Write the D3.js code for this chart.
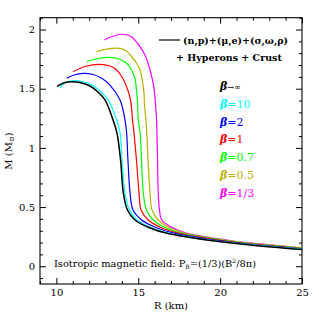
<!DOCTYPE html>
<html>
<head>
<meta charset="utf-8">
<script src="https://cdn.jsdelivr.net/npm/d3@7"></script>
<style>
  body { margin: 0; background: #fff; }
  svg text { font-family: "DejaVu Serif", serif; fill: #000; }
</style>
</head>
<body>
<div id="chart"></div>
<script>
// mass-radius curves, [R (km), M (Msun)]
const betaInf = [[10.04,1.519],[10.53,1.552],[10.95,1.558],[11.44,1.552],[12.05,1.523],[12.54,1.472],[12.97,1.405],[13.46,1.236],[13.70,1.126],[13.92,0.898],[14.09,0.619],[14.34,0.475],[14.80,0.391],[15.72,0.323],[16.76,0.278],[19.18,0.222],[21.82,0.180],[25,0.141]];
const beta10 = [[10.22,1.506],[10.53,1.548],[11.02,1.568],[11.56,1.561],[12.18,1.531],[12.73,1.472],[13.17,1.405],[13.68,1.236],[13.89,1.126],[14.01,0.898],[14.19,0.619],[14.47,0.475],[14.91,0.391],[15.84,0.323],[16.94,0.278],[19.38,0.222],[22.01,0.180],[25,0.144]];
const beta2 = [[10.63,1.588],[11.08,1.616],[11.64,1.630],[12.24,1.620],[12.79,1.586],[13.27,1.531],[13.89,1.405],[14.19,1.236],[14.29,1.126],[14.37,0.898],[14.50,0.619],[14.68,0.475],[15.21,0.391],[16.15,0.323],[17.24,0.278],[19.63,0.222],[22.19,0.181],[25,0.147]];
const beta1 = [[11.03,1.644],[11.75,1.688],[12.66,1.706],[13.27,1.692],[13.68,1.658],[14.01,1.599],[14.29,1.517],[14.53,1.405],[14.65,1.236],[14.74,1.126],[14.89,0.898],[15.05,0.619],[15.17,0.475],[15.61,0.391],[16.45,0.323],[17.49,0.278],[19.87,0.222],[22.37,0.182],[25,0.150]];
const beta07 = [[11.85,1.728],[12.54,1.755],[13.27,1.765],[13.82,1.751],[14.29,1.715],[14.59,1.658],[14.80,1.588],[14.89,1.489],[14.95,1.405],[15.00,1.236],[15.11,1.126],[15.20,0.898],[15.31,0.619],[15.50,0.475],[15.92,0.391],[16.69,0.323],[17.67,0.278],[20.05,0.222],[22.50,0.183],[25,0.152]];
const beta05 = [[12.46,1.813],[13.15,1.836],[13.89,1.841],[14.28,1.819],[14.60,1.770],[14.89,1.717],[15.11,1.658],[15.26,1.557],[15.35,1.464],[15.38,1.362],[15.47,1.236],[15.52,1.126],[15.60,0.898],[15.72,0.619],[15.84,0.475],[16.22,0.391],[16.94,0.323],[17.85,0.278],[20.24,0.222],[22.62,0.184],[25,0.153]];
const beta13 = [[12.93,1.912],[13.40,1.941],[14.09,1.960],[14.56,1.941],[15.11,1.855],[15.41,1.785],[15.72,1.658],[15.93,1.531],[16.02,1.433],[16.08,1.320],[16.12,1.236],[16.14,1.126],[16.18,0.898],[16.22,0.619],[16.30,0.475],[16.43,0.391],[17.12,0.323],[17.98,0.278],[20.40,0.222],[22.74,0.184],[25,0.154]];

const curves = [betaInf, beta10, beta2, beta1, beta07, beta05, beta13];
const betaValues = ["\u2192\u221e", "=10", "=2", "=1", "=0.7", "=0.5", "=1/3"];
const colors = ["#000000", "#00ffff", "#0000ff", "#ff0000", "#00ff00", "#b8b000", "#ff00ff"];

const xMajor = [10, 15, 20, 25];
const yMajor = [0, 0.5, 1, 1.5, 2];

const W = 319, H = 319;
const svg = d3.select("#chart").append("svg")
    .attr("width", W)
    .attr("height", H);

const x = d3.scaleLinear().domain([9, 25]).range([40, 302]);
const y = d3.scaleLinear().domain([-0.15, 2.1]).range([284, 17.7]);

const xMinor = d3.range(9, 26).filter(d => !xMajor.includes(d));
const yMinor = d3.range(-1, 22).map(i => i / 10).filter(d => !yMajor.includes(d));

function styleAxis(g) {
    g.select(".domain").remove();
    g.selectAll("line").attr("stroke", "#000");
    g.selectAll("text").attr("font-size", 10).attr("font-family", "DejaVu Serif");
}

// bottom and top
svg.append("g").attr("transform", `translate(0,${y.range()[0]})`)
    .call(d3.axisBottom(x).tickValues(xMajor).tickSizeInner(-6).tickSizeOuter(0).tickPadding(5).tickFormat(d => d))
    .call(styleAxis);
svg.append("g").attr("transform", `translate(0,${y.range()[0]})`)
    .call(d3.axisBottom(x).tickValues(xMinor).tickSizeInner(-3).tickSizeOuter(0).tickFormat(""))
    .call(styleAxis);
svg.append("g").attr("transform", `translate(0,${y.range()[1]})`)
    .call(d3.axisTop(x).tickValues(xMajor).tickSizeInner(-6).tickSizeOuter(0).tickFormat(""))
    .call(styleAxis);
svg.append("g").attr("transform", `translate(0,${y.range()[1]})`)
    .call(d3.axisTop(x).tickValues(xMinor).tickSizeInner(-3).tickSizeOuter(0).tickFormat(""))
    .call(styleAxis);

// left and right
svg.append("g").attr("transform", `translate(${x.range()[0]},0)`)
    .call(d3.axisLeft(y).tickValues(yMajor).tickSizeInner(-6).tickSizeOuter(0).tickPadding(5).tickFormat(d => d))
    .call(styleAxis);
svg.append("g").attr("transform", `translate(${x.range()[0]},0)`)
    .call(d3.axisLeft(y).tickValues(yMinor).tickSizeInner(-3).tickSizeOuter(0).tickFormat(""))
    .call(styleAxis);
svg.append("g").attr("transform", `translate(${x.range()[1]},0)`)
    .call(d3.axisRight(y).tickValues(yMajor).tickSizeInner(-6).tickSizeOuter(0).tickFormat(""))
    .call(styleAxis);
svg.append("g").attr("transform", `translate(${x.range()[1]},0)`)
    .call(d3.axisRight(y).tickValues(yMinor).tickSizeInner(-3).tickSizeOuter(0).tickFormat(""))
    .call(styleAxis);

// frame
svg.append("rect")
    .attr("x", x.range()[0]).attr("y", y.range()[1])
    .attr("width", x.range()[1] - x.range()[0])
    .attr("height", y.range()[0] - y.range()[1])
    .attr("fill", "none").attr("stroke", "#000").attr("stroke-width", 1.1);

const line = d3.line()
    .x(d => x(d[0]))
    .y(d => y(d[1]))
    .curve(d3.curveCatmullRom.alpha(0.5));

// draw black last so it sits on top like the original
const order = [6, 5, 4, 3, 2, 1, 0];
order.forEach(i => {
    svg.append("path")
        .attr("d", line(curves[i]))
        .attr("fill", "none")
        .attr("stroke", colors[i])
        .attr("stroke-width", i === 0 ? 1.5 : 1.2);
});

// legend
svg.append("line")
    .attr("x1", 159).attr("x2", 180).attr("y1", 40).attr("y2", 40)
    .attr("stroke", "#000").attr("stroke-width", 1.2);
svg.append("text").attr("x", 183).attr("y", 43.5)
    .attr("font-family", "Liberation Serif").attr("font-weight", "bold")
    .attr("font-size", 9.5)
    .text("(n,p)+(\u03bc,e)+(\u03c3,\u03c9,\u03c1)");
svg.append("text").attr("x", 176).attr("y", 60.5)
    .attr("font-family", "Liberation Serif").attr("font-weight", "bold")
    .attr("font-size", 9.5)
    .text("+ Hyperons + Crust");

// beta labels
betaValues.forEach((v, i) => {
    const t = svg.append("text")
        .attr("x", 220).attr("y", 90 + i * 17.8)
        .attr("font-size", 11)
        .attr("fill", colors[i]);
    t.append("tspan").attr("font-style", "italic").attr("font-weight", "bold").attr("fill", colors[i]).text("\u03b2");
    t.append("tspan").attr("fill", colors[i]).attr("font-size", i === 0 ? 8 : 11).text(v);
});

// field note
const note = svg.append("text").attr("x", 54).attr("y", 266.5).attr("font-size", 9.8);
note.append("tspan").text("Isotropic magnetic field: P");
note.append("tspan").attr("font-size", 6).attr("dy", 2).text("B");
note.append("tspan").attr("dy", -2).text("=(1/3)(B");
note.append("tspan").attr("font-size", 6).attr("dy", -4).text("2");
note.append("tspan").attr("dy", 4).text("/8\u03c0)");

// axis titles
svg.append("text").attr("x", 171).attr("y", 309)
    .attr("text-anchor", "middle").attr("font-size", 10)
    .text("R (km)");
const yt = svg.append("text")
    .attr("transform", `translate(12,151) rotate(-90)`)
    .attr("text-anchor", "middle").attr("font-size", 10);
yt.append("tspan").text("M (M");
yt.append("tspan").attr("font-size", 7).attr("dy", 2).text("\u2299");
yt.append("tspan").attr("dy", -2).text(")");
</script>
</body>
</html>
